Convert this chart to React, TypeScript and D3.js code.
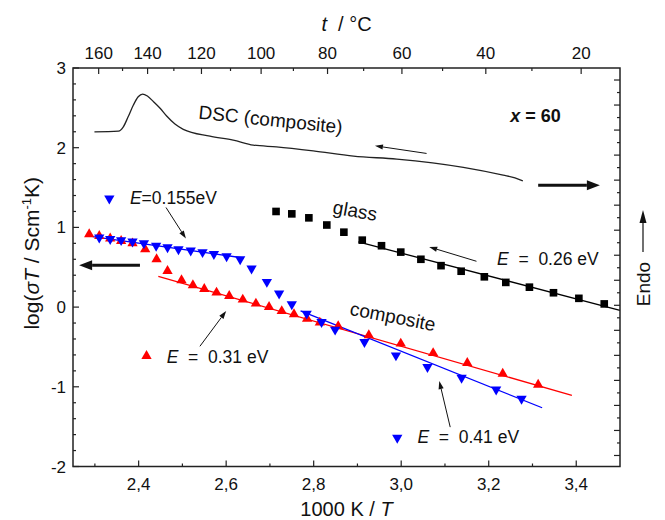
import * as d3 from 'd3'

const W = 665
const H = 520
const FRAME = { left: 73, right: 620, top: 68, bottom: 466.5 }
const FONT = 'Liberation Sans, Arial, Helvetica, sans-serif'

// glass, x = 60 (squares)
const glassX = [2.714, 2.75, 2.789, 2.83, 2.869, 2.911, 2.955, 2.999, 3.045, 3.091, 3.137, 3.19, 3.239, 3.293, 3.348, 3.406, 3.464]
const glassY = [1.2, 1.17, 1.12, 1.03, 0.94, 0.84, 0.77, 0.69, 0.6, 0.52, 0.45, 0.38, 0.31, 0.25, 0.18, 0.11, 0.04]

// composite, heating (red, up triangles)
const redX = [2.287, 2.31, 2.335, 2.36, 2.386, 2.415, 2.441, 2.466, 2.498, 2.524, 2.55, 2.578, 2.607, 2.638, 2.668, 2.698, 2.727, 2.755, 2.785, 2.814, 2.856, 2.926, 2.999, 3.073, 3.151, 3.232, 3.313]
const redY = [0.915, 0.893, 0.86, 0.83, 0.8, 0.726, 0.6, 0.454, 0.337, 0.274, 0.227, 0.182, 0.14, 0.094, 0.044, 0.001, -0.05, -0.09, -0.145, -0.195, -0.24, -0.354, -0.458, -0.577, -0.702, -0.836, -0.974]

// composite, cooling (blue, down triangles)
const blueX = [2.31, 2.335, 2.36, 2.386, 2.412, 2.44, 2.466, 2.491, 2.519, 2.546, 2.572, 2.601, 2.632, 2.658, 2.693, 2.721, 2.75, 2.784, 2.818, 2.849, 2.916, 2.988, 3.06, 3.138, 3.217, 3.275]
const blueY = [0.873, 0.855, 0.84, 0.823, 0.8, 0.77, 0.75, 0.726, 0.71, 0.69, 0.667, 0.638, 0.6, 0.484, 0.316, 0.17, 0.035, -0.082, -0.187, -0.283, -0.438, -0.606, -0.752, -0.886, -1.033, -1.15]

// Arrhenius fits: [x0, x1], [y0, y1]
const fitGlassX = [2.902, 3.5]
const fitGlassY = [0.818, -0.04]
const fitRedX = [2.445, 3.39]
const fitRedY = [0.387, -1.108]
const fitBlueX = [2.77, 3.322]
const fitBlueY = [-0.048, -1.263]
const fitBlueLowX = [2.295, 2.64]
const fitBlueLowY = [0.885, 0.616]

// DSC trace (right axis, arb. units)
const dscX = [2.299, 2.354, 2.365, 2.376, 2.388, 2.399, 2.409, 2.42, 2.434, 2.449, 2.464, 2.483, 2.502, 2.563, 2.616, 2.662, 2.715, 2.799, 2.891, 2.99, 3.142, 3.233, 3.26, 3.278]
const dscV = [12.93, 12.96, 13.13, 13.53, 14.0, 14.33, 14.44, 14.36, 14.13, 13.87, 13.56, 13.24, 13.03, 12.76, 12.6, 12.4, 12.33, 12.17, 11.96, 11.84, 11.51, 11.2, 11.09, 10.97]

// ticks
const xMajor = [2.4, 2.6, 2.8, 3.0, 3.2, 3.4]
const xMinor = [2.3, 2.5, 2.7, 2.9, 3.1, 3.3]
const yMajor = [-2, -1, 0, 1, 2, 3]
const tMajor = [160, 140, 120, 100, 80, 60, 40, 20]
const tMinor = [150, 130, 110, 90, 70, 50, 30]

const xS = d3.scaleLinear().domain([2.25, 3.5]).range([FRAME.left, FRAME.right])
const yS = d3.scaleLinear().domain([-2, 3]).range([FRAME.bottom, FRAME.top])
const dscS = d3.scaleLinear().domain([-0.44, 15.48]).range([FRAME.bottom, FRAME.top])
const invT = (t: number) => 1000 / (t + 273.15)

const commaFmt = d3.formatLocale({ decimal: ',', thousands: '.', grouping: [3], currency: ['', ''] }).format('.1f')

const zip = (xs: number[], ys: number[]) => xs.map((x, i) => [x, ys[i]] as [number, number])

const line = d3.line<[number, number]>().x(d => xS(d[0])).y(d => yS(d[1]))
const dscLine = d3.line<[number, number]>().x(d => xS(d[0])).y(d => dscS(d[1])).curve(d3.curveMonotoneX)

const triUp = d3.symbol(d3.symbolTriangle, 46)()
const square = d3.symbol(d3.symbolSquare, 58)()

type Arr = { x1: number; y1: number; x2: number; y2: number; w: number; head: number; hw: number }

function Arrow({ a }: { a: Arr }) {
  const x1 = xS(a.x1), y1 = yS(a.y1), x2 = xS(a.x2), y2 = yS(a.y2)
  const ang = Math.atan2(y2 - y1, x2 - x1)
  const bx = x2 - a.head * Math.cos(ang)
  const by = y2 - a.head * Math.sin(ang)
  const px = -Math.sin(ang) * a.hw
  const py = Math.cos(ang) * a.hw
  return (
    <g>
      <line x1={x1} y1={y1} x2={bx} y2={by} stroke="#111" strokeWidth={a.w} />
      <polygon points={`${x2},${y2} ${bx + px},${by + py} ${bx - px},${by - py}`} fill="#111" />
    </g>
  )
}

const thin = { w: 1, head: 8, hw: 2.6 }
const thick = { w: 3, head: 13, hw: 5 }
const arrows: Arr[] = [
  { x1: 2.4625, y1: 1.25, x2: 2.508, y2: 0.86, ...thin },
  { x1: 2.54, y1: -0.492, x2: 2.6, y2: -0.049, ...thin },
  { x1: 3.112, y1: -1.506, x2: 3.087, y2: -0.928, ...thin },
  { x1: 3.172, y1: 0.575, x2: 3.064, y2: 0.755, ...thin },
  { x1: 3.058, y1: 1.928, x2: 2.94, y2: 2.024, ...thin },
  { x1: 2.403, y1: 0.525, x2: 2.264, y2: 0.525, ...thick },
  { x1: 3.313, y1: 1.53, x2: 3.454, y2: 1.53, ...thick },
]

function ELabel({ x, y, mx, my, marker, color, value, tight }: any) {
  return (
    <g>
      <path d={triUp} fill={color} transform={`translate(${xS(mx)},${yS(my)})${marker === 'down' ? ' rotate(180)' : ''}`} />
      <text x={xS(x)} y={yS(y)} fontSize={17.5} style={{ whiteSpace: 'pre' }}>
        <tspan fontStyle="italic">E</tspan>
        {tight ? `=${value}` : `  =  ${value}`}
      </text>
    </g>
  )
}

export default function App() {
  const left = FRAME.left, right = FRAME.right, top = FRAME.top, bottom = FRAME.bottom
  const yMinor = d3.range(-1.8, 3, 0.2).filter(v => Math.abs(v - Math.round(v)) > 0.05)
  const dscMajor = d3.range(0, 16, 1)
  const dscMinor = d3.range(-0.5, 15.5, 1).filter(v => dscS(v) <= bottom && dscS(v) >= top)

  return (
    <svg width={W} height={H} style={{ position: 'absolute', left: 0, top: 0, background: '#fff' }} fontFamily={FONT} fill="#111">
      {/* fits */}
      <path d={line(zip(fitGlassX, fitGlassY)) || ''} stroke="#000" strokeWidth={1.3} fill="none" />
      <path d={line(zip(fitRedX, fitRedY)) || ''} stroke="#ff0000" strokeWidth={1.3} fill="none" />
      <path d={line(zip(fitBlueX, fitBlueY)) || ''} stroke="#0000ff" strokeWidth={1.3} fill="none" />
      <path d={line(zip(fitBlueLowX, fitBlueLowY)) || ''} stroke="#0000ff" strokeWidth={1.3} fill="none" />

      {/* DSC */}
      <path d={dscLine(zip(dscX, dscV)) || ''} stroke="#222" strokeWidth={1.3} fill="none" />

      {/* markers */}
      {zip(glassX, glassY).map((d, i) => (
        <path key={'g' + i} d={square} fill="#000" transform={`translate(${xS(d[0])},${yS(d[1])})`} />
      ))}
      {zip(redX, redY).map((d, i) => (
        <path key={'r' + i} d={triUp} fill="#ff0000" transform={`translate(${xS(d[0])},${yS(d[1])})`} />
      ))}
      {zip(blueX, blueY).map((d, i) => (
        <path key={'b' + i} d={triUp} fill="#0000ff" transform={`translate(${xS(d[0])},${yS(d[1])}) rotate(180)`} />
      ))}

      {/* arrows */}
      {arrows.map((a, i) => <Arrow key={'a' + i} a={a} />)}

      {/* annotations */}
      <text fontSize={19} textAnchor="middle" transform={`translate(${xS(2.7)},${yS(2.347) + 6}) rotate(6)`}>DSC (composite)</text>
      <text x={xS(3.249)} y={yS(2.322)} fontSize={18} fontWeight="bold"><tspan fontStyle="italic">x</tspan> = 60</text>
      <text fontSize={19} textAnchor="middle" transform={`translate(${xS(2.892)},${yS(1.204) + 6}) rotate(10)`}>glass</text>
      <text fontSize={19} textAnchor="middle" transform={`translate(${xS(2.978)},${yS(-0.124) + 6}) rotate(11)`}>composite</text>
      <text x={xS(3.219)} y={yS(0.525)} fontSize={17.5} style={{ whiteSpace: 'pre' }}>
        <tspan fontStyle="italic">E</tspan>{'  =  0.26 eV'}
      </text>
      <ELabel x={2.38} y={1.291} mx={2.333} my={1.363} marker="down" color="#0000ff" value="0.155eV" tight />
      <ELabel x={2.464} y={-0.702} mx={2.418} my={-0.614} marker="up" color="#ff0000" value="0.31 eV" />
      <ELabel x={3.037} y={-1.707} mx={2.991} my={-1.639} marker="down" color="#0000ff" value="0.41 eV" />

      {/* frame */}
      <rect x={left} y={top} width={right - left} height={bottom - top} fill="none" stroke="#222" strokeWidth={1.5} />

      {/* bottom axis */}
      {xMajor.map(v => (
        <g key={'xm' + v}>
          <line x1={xS(v)} x2={xS(v)} y1={bottom} y2={bottom - 6} stroke="#222" strokeWidth={1.2} />
          <text x={xS(v)} y={bottom + 23} fontSize={17} textAnchor="middle">{commaFmt(v)}</text>
        </g>
      ))}
      {xMinor.map(v => (
        <line key={'xn' + v} x1={xS(v)} x2={xS(v)} y1={bottom} y2={bottom - 3} stroke="#222" strokeWidth={1.2} />
      ))}
      <text x={(left + right) / 2} y={H - 4} fontSize={20} textAnchor="middle">
        1000 K / <tspan fontStyle="italic">T</tspan>
      </text>

      {/* top axis (°C) */}
      {tMajor.map(t => (
        <g key={'tm' + t}>
          <line x1={xS(invT(t))} x2={xS(invT(t))} y1={top} y2={top + 6} stroke="#222" strokeWidth={1.2} />
          <text x={xS(invT(t))} y={top - 9} fontSize={17} textAnchor="middle">{t}</text>
        </g>
      ))}
      {tMinor.map(t => (
        <line key={'tn' + t} x1={xS(invT(t))} x2={xS(invT(t))} y1={top} y2={top + 3} stroke="#222" strokeWidth={1.2} />
      ))}
      <text x={(left + right) / 2} y={31} fontSize={20} textAnchor="middle" style={{ whiteSpace: 'pre' }}>
        <tspan fontStyle="italic">t</tspan>{'  / °C'}
      </text>

      {/* left axis */}
      {yMajor.map(v => (
        <g key={'ym' + v}>
          <line x1={left} x2={left + 6} y1={yS(v)} y2={yS(v)} stroke="#222" strokeWidth={1.2} />
          <text x={left - 7} y={yS(v) + 6} fontSize={17} textAnchor="end">{v}</text>
        </g>
      ))}
      {yMinor.map(v => (
        <line key={'yn' + v} x1={left} x2={left + 3} y1={yS(v)} y2={yS(v)} stroke="#222" strokeWidth={1.2} />
      ))}
      <text transform={`translate(39,${(top + bottom) / 2 - 14}) rotate(-90)`} fontSize={21} textAnchor="middle">
        log(<tspan fontStyle="italic">σT</tspan> / Scm<tspan fontSize={13} dy={-8}>-1</tspan><tspan dy={8}>K)</tspan>
      </text>

      {/* right axis (DSC) */}
      {dscMajor.map(v => (
        <line key={'dm' + v} x1={right} x2={right - 6} y1={dscS(v)} y2={dscS(v)} stroke="#222" strokeWidth={1.2} />
      ))}
      {dscMinor.map(v => (
        <line key={'dn' + v} x1={right} x2={right - 3} y1={dscS(v)} y2={dscS(v)} stroke="#222" strokeWidth={1.2} />
      ))}
      <text transform={`translate(650,284) rotate(-90)`} fontSize={19} textAnchor="middle">Endo</text>
      <line x1={643} x2={643} y1={252} y2={222} stroke="#111" strokeWidth={1.2} />
      <polygon points="643,210 639.5,223 646.5,223" fill="#111" />
    </svg>
  )
}
